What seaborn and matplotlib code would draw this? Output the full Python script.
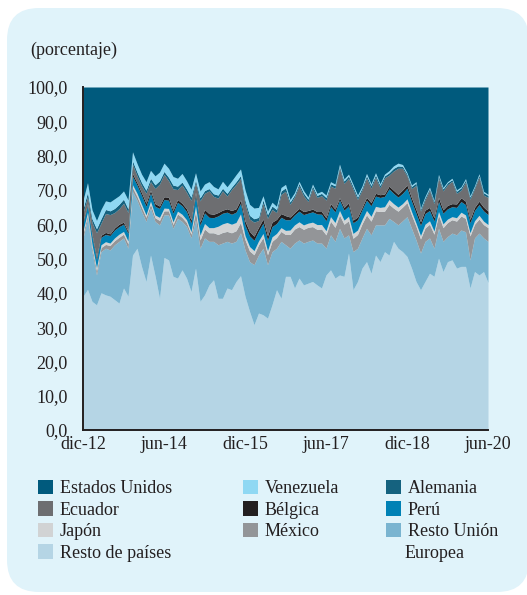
import numpy as np
import pandas as pd
import seaborn as sns
import matplotlib
matplotlib.use('Agg')
from matplotlib import pyplot as plt
from matplotlib.patches import Patch, FancyBboxPatch

# monthly data, dic-12 .. jun-20 (91 months), % of total
resto_paises = [39, 41, 37.5, 36.5, 40, 39.4, 39, 38, 37, 41.4, 39,
                51, 53, 47.7, 43.3, 51, 45, 38.4, 50.3, 49.6, 44.8, 44.3, 46.7, 44.3, 40.4,
                47.2, 37.5, 39.4, 42.3, 43.8, 38.4, 38.4, 41.4, 40.9, 43.3, 45,
                39, 34.6, 30.7, 34.1, 33.6, 32.6, 36.5, 40.9, 38.4, 44.8,
                44.8, 41.4, 44.3, 42.3, 42.8, 43.3, 42.3, 41.4, 45.2, 46.7, 44.3, 45.2, 44.8,
                51.6, 40.9, 43.3, 47.2, 49.1, 45.7, 51, 49.1, 52, 51, 55, 53,
                52, 50.6, 47.2, 43.3, 40.9, 43.3, 45.7, 44.8, 50.1, 46.2, 49.1, 49.6, 47.2,
                47.7, 47.7, 41.4, 46.2, 45.2, 46.2, 43]
resto_ue = [17, 20.7, 14.5, 8.7, 12, 13.6, 13.5, 16, 18, 14.6, 14,
            18.5, 14, 16, 17.5, 13.7, 15.8, 21.4, 12.4, 13.1, 14, 17.4, 14.1, 15, 15.6,
            14.1, 15.5, 16.6, 12.7, 11.2, 15.6, 16.1, 13.6, 13.6, 11.7, 12.5,
            13.5, 14.5, 17.5, 16.9, 19.4, 15.6, 15.5, 12.1, 16.6, 9.2,
            8.2, 13.1, 11.1, 12.2, 12.2, 12.1, 12.2, 13.1, 7.8, 10.2, 10.7, 13.6, 11.2,
            5.3, 11.1, 9.7, 8.8, 9.7, 11.2, 8.8, 10.7, 7.8, 10.7, 5.8, 6.8,
            9, 11.6, 11.6, 12.1, 10.7, 11.7, 10.3, 8.2, 8.7, 8.8, 7.3, 7.8, 9.7,
            10.6, 10.1, 8.2, 9.8, 12.2, 9.8, 12]
mexico = [1.2, 1.1, 1.3, 1.2, 1.2, 1.1, 1.3, 1.2, 1.2, 1.1, 1.3,
          1.2, 1.1, 1.3, 1.2, 1.2, 1.1, 1.3, 1.2, 1.2, 1.1, 1.3, 1.2, 1.2, 1.1,
          2.5, 2.4, 2.6, 2.5, 2.5, 3.0, 3.1, 2.9, 3.0, 3.1, 3.0,
          3.0, 3.1, 2.9, 3.0, 3.1, 2.9, 3.0, 3.1, 2.9, 3.0,
          4.0, 4.1, 3.9, 4.0, 4.1, 3.9, 4.0, 4.1, 3.9, 4.0, 4.1, 3.9, 4.0,
          4.1, 3.9, 4.0, 4.1, 3.9, 4.0, 4.1, 3.9, 4.0, 4.1, 3.9, 4.0,
          4.0, 4.1, 3.9, 4.0, 4.1, 3.9, 4.0, 4.1, 3.9, 4.0, 4.1, 3.9, 4.0,
          4.1, 3.9, 7.0, 4.0, 4.1, 3.9, 4.0]
japon = [0.8, 0.7, 0.8, 0.9, 0.8, 0.8, 0.7, 0.8, 0.9, 0.8, 0.8,
         0.8, 0.9, 0.8, 0.7, 0.8, 0.8, 0.9, 0.8, 0.7, 0.8, 0.8, 0.9, 0.8, 0.7,
         1.5, 1.4, 1.6, 1.5, 1.5, 2.4, 2.5, 2.6, 2.5, 2.4, 2.5,
         1.2, 1.3, 1.2, 1.1, 1.2, 1.2, 1.3, 1.2, 1.1, 1.2,
         1.3, 1.2, 1.4, 1.3, 1.2, 1.3, 1.4, 1.3, 1.2, 1.3, 1.4, 1.3, 1.2,
         1.3, 1.4, 1.3, 1.2, 1.3, 1.4, 1.3, 1.2, 1.3, 1.4, 1.3, 1.2,
         1.0, 1.1, 1.0, 0.9, 1.0, 1.1, 1.0, 0.9, 1.0, 1.1, 1.0, 0.9, 1.0,
         1.1, 1.0, 0.9, 1.0, 1.1, 1.0, 0.9]
peru = [2.2, 2.0, 2.3, 2.4, 2.2, 2.1, 2.2, 2.3, 2.2, 2.1, 2.2,
        2.5, 2.4, 2.6, 2.5, 2.4, 2.5, 2.6, 2.5, 2.4, 2.5, 2.6, 2.5, 2.4, 2.5,
        3.0, 2.9, 3.1, 3.0, 2.9, 3.0, 3.1, 3.0, 2.9, 3.0, 3.1,
        3.0, 3.1, 3.0, 2.9, 3.0, 3.1, 3.0, 2.9, 3.0, 3.1,
        3.0, 2.9, 3.1, 3.0, 2.9, 3.0, 3.1, 3.0, 2.9, 3.0, 3.1, 3.0, 2.9,
        3.0, 3.1, 3.0, 2.9, 3.0, 3.1, 3.0, 2.9, 3.0, 3.1, 3.0, 2.9,
        3.0, 3.1, 3.0, 2.9, 3.0, 3.1, 3.0, 2.9, 3.0, 3.1, 3.0, 2.9, 3.0,
        3.1, 3.0, 2.9, 3.0, 3.1, 3.0, 2.9]
belgica = [0.6, 0.5, 0.6, 0.7, 0.6, 0.6, 0.5, 0.6, 0.7, 0.6, 0.6,
           0.8, 0.7, 0.8, 0.9, 0.8, 0.8, 0.7, 0.8, 0.9, 0.8, 0.8, 0.7, 0.8, 0.9,
           1.0, 0.9, 1.0, 1.1, 1.0, 1.0, 0.9, 1.0, 1.1, 1.0, 1.0,
           1.2, 1.3, 1.2, 1.1, 1.2, 1.2, 1.3, 1.2, 1.1, 1.2,
           0.8, 0.7, 0.8, 0.9, 0.8, 0.8, 0.7, 0.8, 0.9, 0.8, 0.8, 0.7, 0.8,
           0.9, 0.8, 0.8, 0.7, 0.8, 0.9, 0.8, 0.8, 0.7, 0.8, 0.9, 0.8,
           1.0, 0.9, 1.0, 1.1, 1.0, 1.0, 0.9, 1.0, 1.1, 1.0, 1.0, 0.9, 1.0,
           1.1, 1.0, 1.0, 0.9, 1.0, 1.1, 1.0]
ecuador = [2.5, 2.0, 3.5, 7.1, 3.5, 5.5, 5.6, 4.5, 4.5, 5.5, 5.5,
           2.7, 2.0, 2.0, 2.9, 2.5, 4.4, 6.4, 6.5, 4.8, 6.3, 2.9, 5.3, 4.8, 5.7,
           2.8, 6.2, 4.7, 6.6, 5.2, 4.2, 5.6, 3.7, 6.1, 7.1, 6.2,
           5.1, 3.6, 4.1, 2.0, 4.6, 5.1, 3.7, 2.0, 5.6, 7.1,
           3.7, 4.6, 6.6, 4.6, 2.6, 6.1, 4.1, 4.6, 5.1, 5.1, 6.1, 8.6, 7.0,
           7.1, 9.1, 5.1, 5.1, 5.7, 4.2, 4.7, 2.0, 4.7, 3.2, 5.6, 7.6,
           6.3, 2.7, 2.7, 7.0, 3.1, 3.0, 5.0, 4.1, 5.6, 5.5, 6.0, 6.5, 3.1,
           2.2, 5.6, 5.9, 5.5, 7.0, 3.5, 4.0]
alemania = [1.2, 1.3, 1.1, 1.2, 1.3, 1.2, 1.1, 1.2, 1.3, 1.2, 1.1,
            1.0, 1.1, 1.0, 0.9, 1.0, 1.1, 1.0, 0.9, 1.0, 1.1, 1.0, 0.9, 1.0, 1.0,
            0.8, 0.9, 0.8, 0.7, 0.8, 0.9, 0.8, 0.8, 0.7, 0.8, 0.9,
            1.0, 1.1, 1.0, 0.9, 1.0, 1.1, 1.0, 0.9, 1.0, 1.0,
            0.7, 0.6, 0.7, 0.8, 0.7, 0.7, 0.6, 0.7, 0.8, 0.7, 0.7, 0.6, 0.7,
            0.8, 0.7, 0.7, 0.6, 0.7, 0.8, 0.7, 0.7, 0.6, 0.7, 0.8, 0.7,
            0.6, 0.5, 0.6, 0.7, 0.6, 0.6, 0.5, 0.6, 0.7, 0.6, 0.6, 0.5, 0.6,
            0.7, 0.6, 0.6, 0.5, 0.6, 0.7, 0.6]
venezuela = [2.5, 2.8, 2.6, 2.4, 2.7, 2.5, 2.6, 2.8, 2.5, 2.4, 2.6,
             2.6, 2.5, 2.4, 2.5, 2.3, 2.6, 2.5, 2.4, 2.6, 2.5, 2.3, 2.5, 2.4, 2.3,
             2.1, 2.0, 1.9, 2.0, 2.1, 1.8, 2.0, 1.9, 1.8, 2.0, 1.9,
             3.0, 3.2, 3.1, 2.9, 1.2, 1.0, 1.1, 0.9, 1.0, 1.0,
             0.7, 0.6, 0.6, 0.7, 0.6, 0.5, 0.6, 0.6, 0.7, 0.6, 0.5, 0.6, 0.6,
             0.5, 0.6, 0.6, 0.5, 0.6, 0.5, 0.6, 0.5, 0.5, 0.6, 0.7, 0.8,
             0.5, 0.4, 0.4, 0.4, 0.3, 0.4, 0.4, 0.3, 0.4, 0.4, 0.3, 0.4, 0.4,
             0.3, 0.4, 0.4, 0.3, 0.4, 0.4, 0.3]

fechas = pd.date_range('2012-12-01', periods=91, freq='MS')
tick_labels = ['dic-12', 'jun-14', 'dic-15', 'jun-17', 'dic-18', 'jun-20']

series = ['Resto de países', 'Resto Unión Europea', 'México', 'Japón', 'Perú',
          'Bélgica', 'Ecuador', 'Alemania', 'Venezuela', 'Estados Unidos']
df = pd.DataFrame({
    'Resto de países': resto_paises,
    'Resto Unión Europea': resto_ue,
    'México': mexico,
    'Japón': japon,
    'Perú': peru,
    'Bélgica': belgica,
    'Ecuador': ecuador,
    'Alemania': alemania,
    'Venezuela': venezuela,
}, index=fechas)
df['Estados Unidos'] = 100 - df.sum(axis=1)

colores = {
    'Resto de países': '#b5d5e5',
    'Resto Unión Europea': '#7ab4d0',
    'México': '#939598',
    'Japón': '#d1d3d4',
    'Perú': '#0081b5',
    'Bélgica': '#231f20',
    'Ecuador': '#6d6e71',
    'Alemania': '#15627f',
    'Venezuela': '#8fd8f3',
    'Estados Unidos': '#005a7d',
}

sns.set_style('white')
plt.rcParams['font.family'] = ['Liberation Serif', 'DejaVu Serif']
texto = '#231f20'

fig = plt.figure(figsize=(5.27, 5.95), dpi=100)
fig.patch.set_facecolor('white')

# rounded background panel
bg = fig.add_axes([0, 0, 1, 1], zorder=-5)
bg.set_xlim(0, 527)
bg.set_ylim(595, 0)
bg.axis('off')
bg.add_patch(FancyBboxPatch((7, 8), 522, 584, boxstyle='round,pad=0,rounding_size=32',
                            facecolor='#e0f3fa', edgecolor='none'))

ax = fig.add_axes([83 / 527, 1 - 430 / 595, 405 / 527, 343 / 595])
ax.set_facecolor('none')
x = np.arange(len(df))
ax.stackplot(x, [df[s].values for s in series], colors=[colores[s] for s in series],
             linewidth=0)

ax.set_xlim(0, 90)
ax.set_ylim(0, 100)
ax.set_xticks([0, 18, 36, 54, 72, 90])
ax.set_xticklabels(tick_labels)
ax.set_yticks(np.arange(0, 101, 10))
ax.set_yticklabels([f'{v:.1f}'.replace('.', ',') for v in range(0, 101, 10)])
ax.tick_params(axis='both', direction='in', length=4, width=1.2, labelsize=13,
               colors='black', labelcolor=texto)
ax.tick_params(axis='x', pad=4)
ax.tick_params(axis='y', pad=11)
sns.despine(ax=ax)
for s in ['left', 'bottom']:
    ax.spines[s].set_linewidth(1.4)
    ax.spines[s].set_color(texto)

fig.text(30 / 527, 1 - 50 / 595, '(porcentaje)', fontsize=13, color=texto,
         va='center', ha='left')

# legend in three columns
cols = [['Estados Unidos', 'Ecuador', 'Japón', 'Resto de países'],
        ['Venezuela', 'Bélgica', 'México'],
        ['Alemania', 'Perú', 'Resto Unión Europea']]
xs = [38, 243, 386]
for names, x0 in zip(cols, xs):
    handles = [Patch(facecolor=colores[n], edgecolor='none') for n in names]
    etiquetas = [n.replace(' Europea', '') for n in names]
    leg = fig.legend(handles, etiquetas, loc='upper left',
                     bbox_to_anchor=(x0 / 527, 1 - 480 / 595),
                     frameon=False, fontsize=13, handlelength=0.85, handleheight=0.85,
                     handletextpad=0.35, labelspacing=0.22, borderaxespad=0,
                     borderpad=0)
    for t in leg.get_texts():
        t.set_color(texto)

fig.text(405 / 527, 1 - 554 / 595, 'Europea', fontsize=13, color=texto,
         va='center', ha='left')

fig.savefig('out.png', dpi=100)
